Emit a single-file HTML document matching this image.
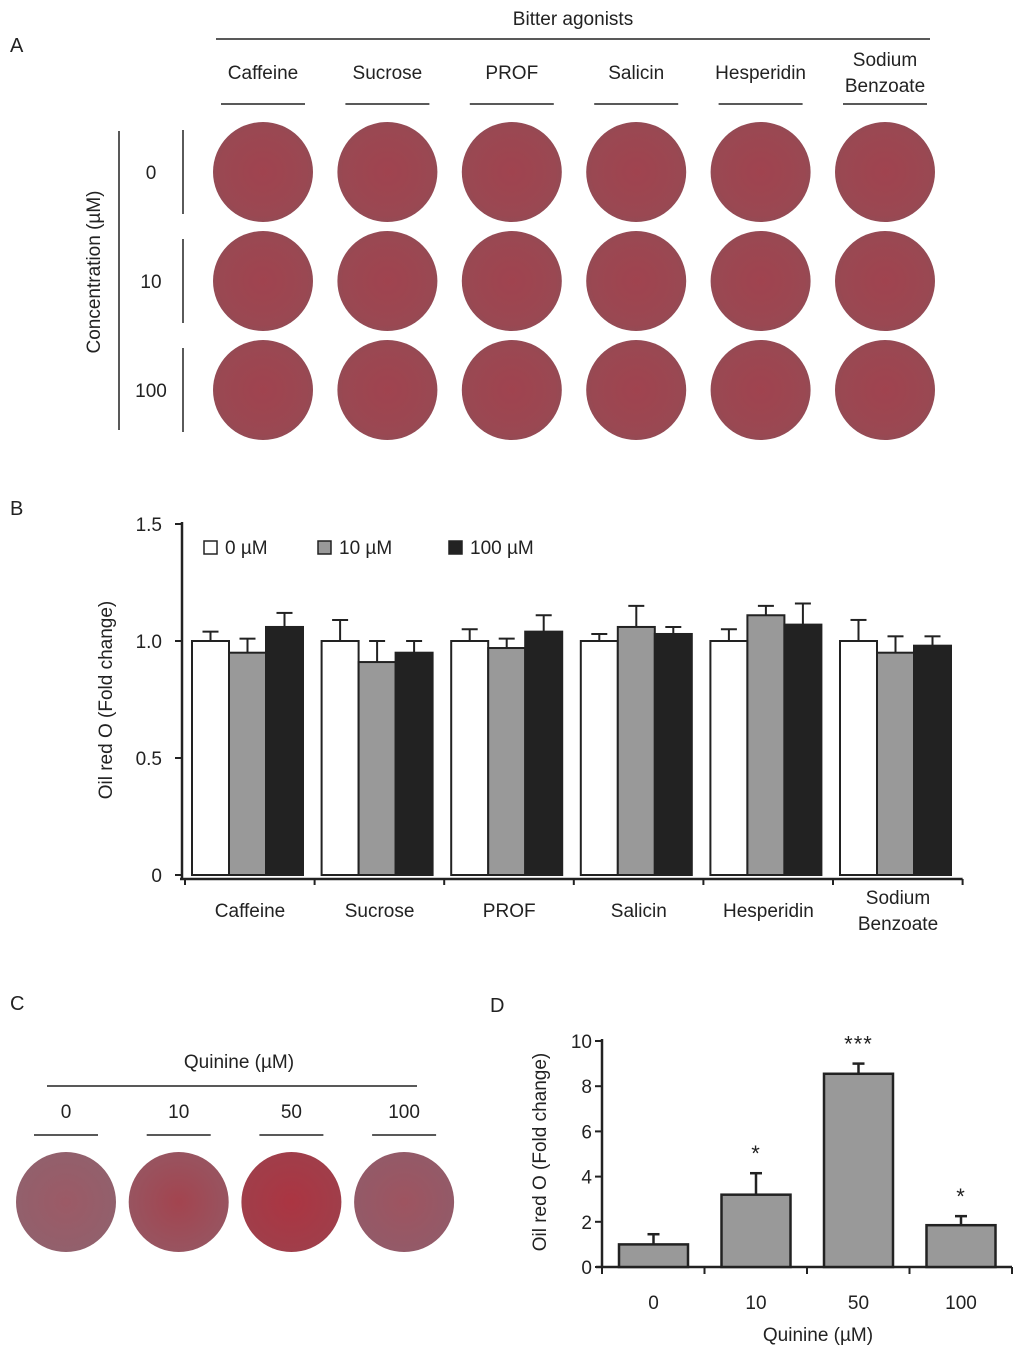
<!DOCTYPE html>
<html><head><meta charset="utf-8">
<style>
body{margin:0;background:#fff;width:1024px;height:1355px;overflow:hidden;font-family:"Liberation Sans",Arial,sans-serif;}
svg text{font-family:"Liberation Sans",Arial,sans-serif;fill:#222;}
</style></head>
<body>
<svg width="1024" height="1355" viewBox="0 0 1024 1355" xmlns="http://www.w3.org/2000/svg">
<defs>
<radialGradient id="plateA" cx="50%" cy="50%" r="55%">
<stop offset="0" stop-color="#a0434f"/><stop offset="0.8" stop-color="#9a4852"/><stop offset="1" stop-color="#8f4c56"/>
</radialGradient>
<radialGradient id="plateC0"><stop offset="0" stop-color="#9c5a66"/><stop offset="1" stop-color="#92606c"/></radialGradient>
<radialGradient id="plateC1"><stop offset="0" stop-color="#a3444f"/><stop offset="1" stop-color="#985460"/></radialGradient>
<radialGradient id="plateC2"><stop offset="0" stop-color="#ab3542"/><stop offset="1" stop-color="#a03e4a"/></radialGradient>
<radialGradient id="plateC3"><stop offset="0" stop-color="#9e5460"/><stop offset="1" stop-color="#935a68"/></radialGradient>
</defs>

<!-- Panel A -->
<text x="10" y="52" font-size="20">A</text>
<text x="573" y="25" font-size="19" text-anchor="middle">Bitter agonists</text>
<line x1="216" y1="39" x2="930" y2="39" stroke="#222" stroke-width="1.5"/>
<g id="aHeaders"></g>
<g id="aPlates"></g>
<line x1="119" y1="131" x2="119" y2="430" stroke="#222" stroke-width="1.5"/>
<text transform="translate(100,272) rotate(-90)" font-size="19" text-anchor="middle">Concentration (µM)</text>
<g id="aRows"></g>

<!-- Panel B -->
<text x="10" y="515" font-size="20">B</text>
<g id="chartB"></g>

<!-- Panel C -->
<text x="10" y="1010" font-size="20">C</text>
<text x="239" y="1068" font-size="19" text-anchor="middle">Quinine (µM)</text>
<line x1="47" y1="1086" x2="417" y2="1086" stroke="#222" stroke-width="1.5"/>
<g id="cPlates"></g>

<!-- Panel D -->
<text x="490" y="1012" font-size="20">D</text>
<g id="chartD"></g>
</svg>
<script>
const agonists = ["Caffeine","Sucrose","PROF","Salicin","Hesperidin","Sodium Benzoate"];
const concLabels = ["0","10","100"];
const seriesLabels = ["0 µM","10 µM","100 µM"];
const vals0 = [1.00,1.00,1.00,1.00,1.00,1.00];
const err0 = [0.04,0.09,0.05,0.03,0.05,0.09];
const vals10 = [0.95,0.91,0.97,1.06,1.11,0.95];
const err10 = [0.06,0.09,0.04,0.09,0.04,0.07];
const vals100 = [1.06,0.95,1.04,1.03,1.07,0.98];
const err100 = [0.06,0.05,0.07,0.03,0.09,0.04];
const yTicksB = [0,0.5,1.0,1.5];
const yTickLabelsB = ["0","0.5","1.0","1.5"];
const quinineConc = ["0","10","50","100"];
const quinineVals = [1.0,3.2,8.55,1.85];
const quinineErr = [0.45,0.95,0.45,0.4];
const quinineSig = ["","*","***","*"];
const yTicksD = [0,2,4,6,8,10];

const NS="http://www.w3.org/2000/svg";
function mk(tag,attrs,parent){const e=document.createElementNS(NS,tag);for(const k in attrs)e.setAttribute(k,attrs[k]);parent.appendChild(e);return e;}

// Panel A
const aH=document.getElementById('aHeaders'), aP=document.getElementById('aPlates'), aR=document.getElementById('aRows');
const aCx=i=>263+i*124.4, aCy=j=>172+j*109;
agonists.forEach((n,i)=>{
  const x=aCx(i);
  const parts=n.split(' ');
  if(parts.length===1){const t=mk('text',{x:x,y:79,'font-size':19,'text-anchor':'middle'},aH);t.textContent=n;
    
    }
  else{parts.forEach((p,k)=>{const t=mk('text',{x:x,y:66+k*26,'font-size':19,'text-anchor':'middle'},aH);t.textContent=p;
    
    });}
  const l=mk('line',{x1:x-42,x2:x+42,y1:104,y2:104,stroke:'#222','stroke-width':1.5},aH);
  
  
  concLabels.forEach((c,j)=>{
    const cc=mk('circle',{cx:x,cy:aCy(j),r:50,fill:'url(#plateA)'},aP);
    
    
  });
});
concLabels.forEach((c,j)=>{
  const y=aCy(j);
  const t=mk('text',{x:151,y:y+7,'font-size':19,'text-anchor':'middle'},aR);t.textContent=c;
  
  
  const l=mk('line',{x1:183,x2:183,y1:y-42,y2:y+42,stroke:'#222','stroke-width':1.5},aR);
  
  
});

// Panel B
const gB=document.getElementById('chartB');
const bX0=182, bY0=875, bScale=(875-524)/1.5;
const yB=v=>bY0-v*bScale;
const groupW=129.6, barW=37;
const xGroup=i=>bX0+3+i*groupW;
mk('line',{x1:bX0,x2:bX0,y1:522,y2:bY0+4,stroke:'#222','stroke-width':2.5},gB);
mk('line',{x1:bX0-2,x2:bX0+3+6*groupW,y1:bY0+4,y2:bY0+4,stroke:'#222','stroke-width':2.5},gB);
for(let i=0;i<=6;i++){mk('line',{x1:xGroup(i),x2:xGroup(i),y1:bY0+4,y2:bY0+10,stroke:'#222','stroke-width':2},gB);}
yTicksB.forEach((v,k)=>{
  mk('line',{x1:bX0-7,x2:bX0,y1:yB(v),y2:yB(v),stroke:'#222','stroke-width':2},gB);
  const t=mk('text',{x:bX0-20,y:yB(v)+7,'font-size':19,'text-anchor':'end'},gB);t.textContent=yTickLabelsB[k];
  
  
});
const yt=mk('text',{transform:'translate(112,700) rotate(-90)','font-size':19,'text-anchor':'middle'},gB);yt.textContent='Oil red O (Fold change)';


const fills=['#ffffff','#999999','#222222'];
const series=[vals0,vals10,vals100], errs=[err0,err10,err100];
agonists.forEach((n,i)=>{
  series.forEach((s,k)=>{
    const x=xGroup(i)+7+k*barW, y=yB(s[i]);
    const e=errs[k][i];
    const el=mk('line',{x1:x+barW/2,x2:x+barW/2,y1:y,y2:yB(s[i]+e),stroke:'#222','stroke-width':2},gB);
    
    
    mk('line',{x1:x+barW/2-8,x2:x+barW/2+8,y1:yB(s[i]+e),y2:yB(s[i]+e),stroke:'#222','stroke-width':2},gB);
    const r=mk('rect',{x:x,y:y,width:barW,height:bY0-y,fill:fills[k],stroke:'#222','stroke-width':2},gB);
    
    
  });
  const parts=n.split(' '), cx=xGroup(i)+65;
  parts.forEach((p,k)=>{
    const t=mk('text',{x:cx,y:(parts.length===1?917:904+k*26),'font-size':19,'text-anchor':'middle'},gB);t.textContent=p;
    
    
  });
});
seriesLabels.forEach((s,k)=>{
  const lx=[204,318,449][k];
  const r=mk('rect',{x:lx,y:541,width:13,height:13,fill:fills[k],stroke:'#222','stroke-width':1.5},gB);
  
  
  const t=mk('text',{x:lx+21,y:554,'font-size':19},gB);t.textContent=s;
  
  
});

// Panel C
const cP=document.getElementById('cPlates');
quinineConc.forEach((c,i)=>{
  const x=66+i*112.7;
  const t=mk('text',{x:x,y:1118,'font-size':19,'text-anchor':'middle'},cP);t.textContent=c;
  
  
  mk('line',{x1:x-32,x2:x+32,y1:1135,y2:1135,stroke:'#222','stroke-width':1.5},cP);
  const cc=mk('circle',{cx:x,cy:1202,r:50,fill:'url(#plateC'+i+')'},cP);
  
  
});

// Panel D
const gD=document.getElementById('chartD');
const dX0=602, dY0=1267, dScale=(1267-1041)/10;
const yD=v=>dY0-v*dScale;
const dGroup=102.5;
const xD=i=>dX0+i*dGroup;
mk('line',{x1:dX0,x2:dX0,y1:1039,y2:dY0,stroke:'#222','stroke-width':2.5},gD);
mk('line',{x1:dX0-6,x2:xD(4),y1:dY0,y2:dY0,stroke:'#222','stroke-width':2.5},gD);
for(let i=0;i<=4;i++){mk('line',{x1:xD(i),x2:xD(i),y1:dY0,y2:dY0+7,stroke:'#222','stroke-width':2},gD);}
yTicksD.forEach(v=>{
  mk('line',{x1:dX0-7,x2:dX0,y1:yD(v),y2:yD(v),stroke:'#222','stroke-width':2},gD);
  const t=mk('text',{x:dX0-10,y:yD(v)+7,'font-size':19,'text-anchor':'end'},gD);t.textContent=v;
  
  
});
const ytd=mk('text',{transform:'translate(546,1152) rotate(-90)','font-size':19,'text-anchor':'middle'},gD);ytd.textContent='Oil red O (Fold change)';


const xtd=mk('text',{x:818,y:1341,'font-size':19,'text-anchor':'middle'},gD);xtd.textContent='Quinine (µM)';


quinineConc.forEach((c,i)=>{
  const x=xD(i)+17, w=69, y=yD(quinineVals[i]), ye=yD(quinineVals[i]+quinineErr[i]);
  mk('line',{x1:x+w/2,x2:x+w/2,y1:y,y2:ye,stroke:'#222','stroke-width':2.5},gD);
  mk('line',{x1:x+w/2-6,x2:x+w/2+6,y1:ye,y2:ye,stroke:'#222','stroke-width':2.5},gD);
  const r=mk('rect',{x:x,y:y,width:w,height:dY0-y,fill:'#999999',stroke:'#222','stroke-width':2.5},gD);
  
  
  const t=mk('text',{x:x+w/2,y:1309,'font-size':19,'text-anchor':'middle'},gD);t.textContent=c;
  
  
  if(quinineSig[i]){const s=mk('text',{x:x+w/2,y:ye-12,'font-size':22,'text-anchor':'middle',fill:'#444','letter-spacing':'1'},gD);s.textContent=quinineSig[i];
    
    }
});
</script>
</body></html>
